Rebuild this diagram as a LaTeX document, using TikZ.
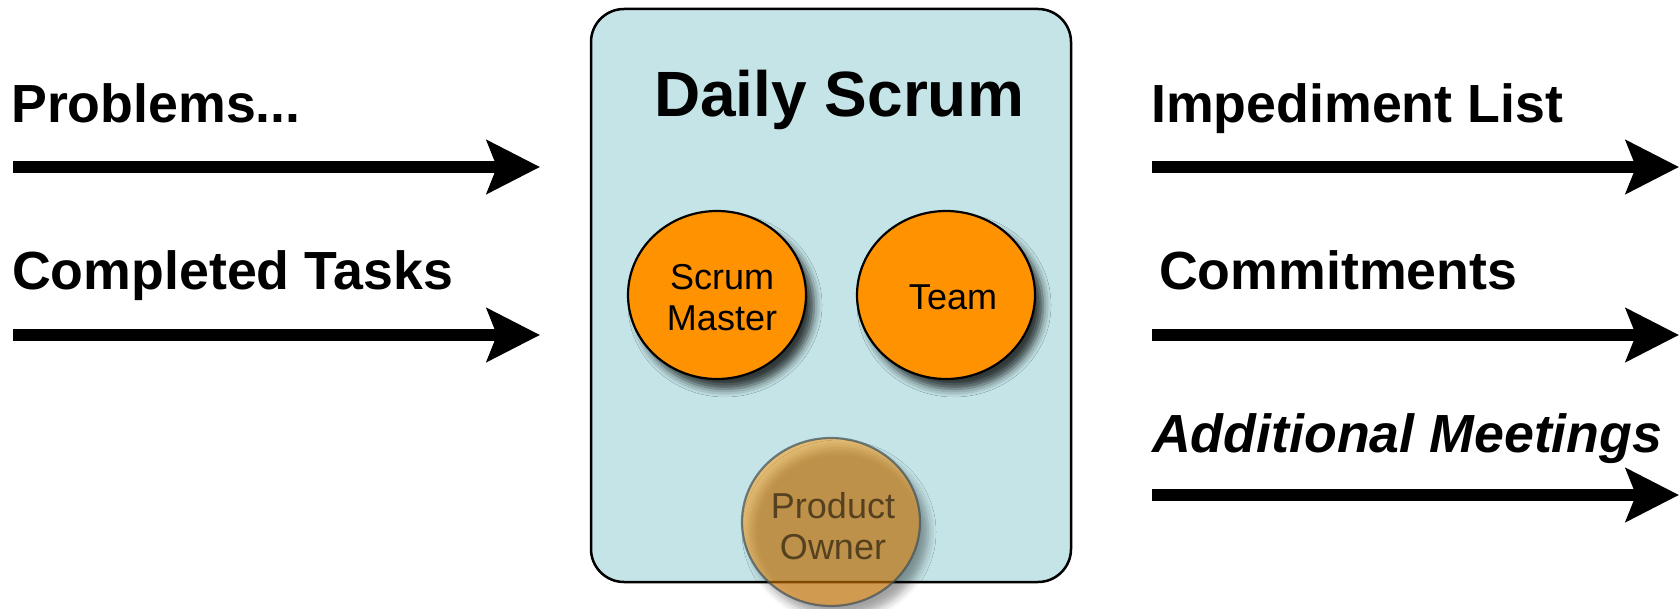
\documentclass[tikz,border=0pt]{standalone}
\usepackage{fontspec}
\setmainfont{Liberation Sans}
\usetikzlibrary{arrows.meta,shapes.geometric,shadows.blur}

\definecolor{meetingblue}{HTML}{C4E4E7}
\definecolor{roleorange}{HTML}{FF9200}
\definecolor{fadedrim}{HTML}{3E5058}

\tikzset{
  flowlabel/.style={anchor=base west, inner sep=0pt, font=\fontsize{53.7}{60}\selectfont\bfseries},
  flowarrow/.style={line width=12.7pt, -{Stealth[length=53pt,width=53pt,inset=10pt]}},
  role/.style={ellipse, draw=black, line width=2.2pt, fill=roleorange,
    minimum width=178pt, minimum height=168pt, inner sep=0pt, align=center,
    font=\fontsize{36}{41}\selectfont,
    blur shadow={shadow xshift=8pt, shadow yshift=-10pt, shadow blur radius=8pt, shadow opacity=75}},
  meeting/.style={draw=black, line width=2.5pt, fill=meetingblue, rounded corners=33pt,
    minimum width=480pt, minimum height=573pt, inner sep=0pt}
}

\begin{document}
\begin{tikzpicture}[x=1pt,y=-1pt]
\useasboundingbox (0,0) rectangle (1680,609);

% the meeting itself
\node[meeting] (box) at (831,295.5) {};
\node[anchor=base, inner sep=0pt, font=\fontsize{64}{70}\selectfont\bfseries] (title) at (839,117) {Daily Scrum};

% participants
\node[role] (sm) at (717,295) {};
\node[inner sep=0pt, align=center, font=\fontsize{36}{41}\selectfont] (smtext) at (722,298) {Scrum\\Master};
\node[role] (team) at (946,295) {};
\node[inner sep=0pt, font=\fontsize{36}{41}\selectfont] (teamtext) at (953,297) {Team};

% optional participant, drawn faded
\node[role, fill opacity=0.5, draw=fadedrim, draw opacity=0.7,
  blur shadow={shadow xshift=8pt, shadow yshift=-10pt, shadow blur radius=8pt, shadow opacity=40}]
  (po) at (831,522) {};
\node[inner sep=0pt, align=center, font=\fontsize{36}{41}\selectfont, text=black, text opacity=0.55] (potext) at (833,526) {Product\\Owner};

% inputs
\coordinate (in1s) at (13,167);  \coordinate (in1e) at (540,167);
\coordinate (in2s) at (13,335);  \coordinate (in2e) at (540,335);
\node[flowlabel] (lprob) at (11,123) {Problems...};
\node[flowlabel] (ltask) at (12,290) {Completed Tasks};
\draw[flowarrow] (in1s) -- (in1e);
\draw[flowarrow] (in2s) -- (in2e);

% outputs
\coordinate (out1s) at (1152,167); \coordinate (out1e) at (1679,167);
\coordinate (out2s) at (1152,335); \coordinate (out2e) at (1679,335);
\coordinate (out3s) at (1152,495); \coordinate (out3e) at (1679,495);
\node[flowlabel] (rimp) at (1151,123) {Impediment List};
\node[flowlabel] (rcom) at (1159,290) {Commitments};
\node[flowlabel, font=\fontsize{53.7}{60}\selectfont\bfseries\itshape] (radd) at (1152,452) {Additional Meetings};
\draw[flowarrow] (out1s) -- (out1e);
\draw[flowarrow] (out2s) -- (out2e);
\draw[flowarrow] (out3s) -- (out3e);
\end{tikzpicture}
\end{document}
